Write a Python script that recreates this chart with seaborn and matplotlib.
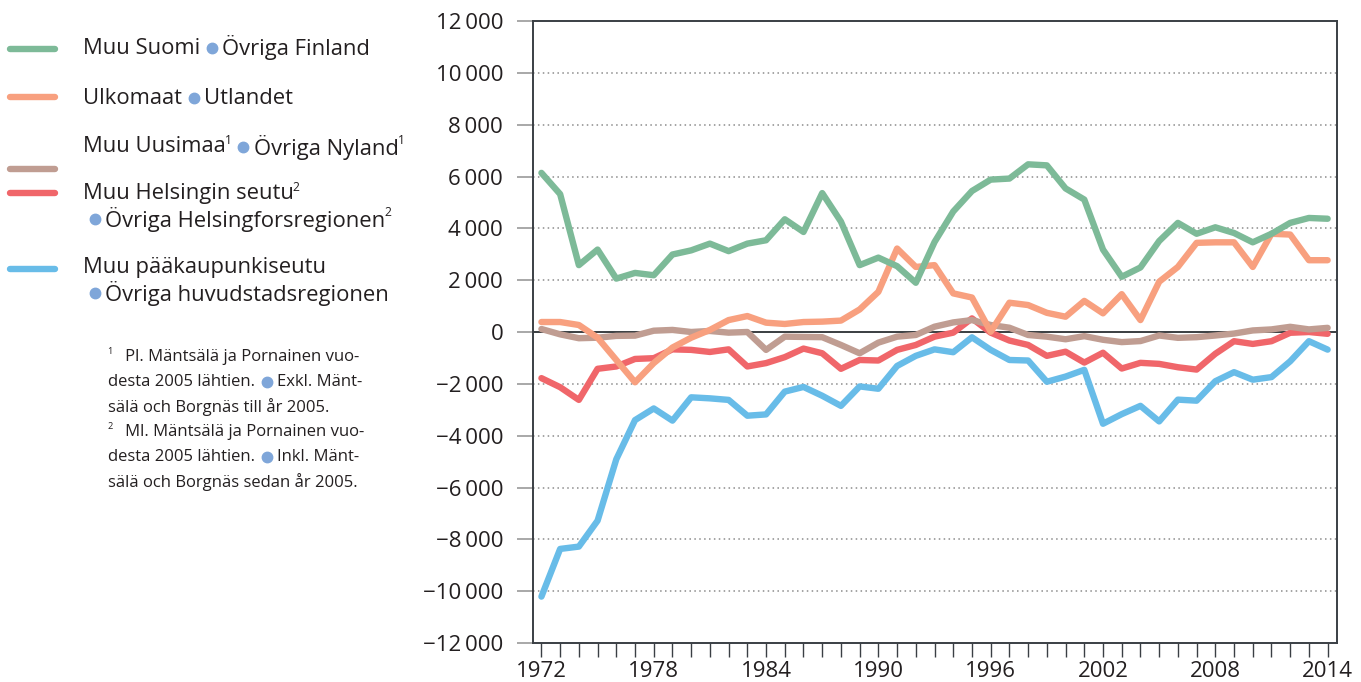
import numpy as np
import pandas as pd
import matplotlib
matplotlib.use("Agg")
import matplotlib.pyplot as plt
import seaborn as sns
from matplotlib.lines import Line2D
from matplotlib.transforms import IdentityTransform

years = list(range(1972, 2015))

muu_suomi = [6140, 5320, 2580, 3180, 2060, 2280, 2190, 2990, 3150, 3410, 3120, 3410, 3540, 4350,
             3860, 5360, 4260, 2580, 2870, 2540, 1900, 3470, 4650, 5440, 5880, 5920, 6470, 6430,
             5540, 5110, 3180, 2130, 2490, 3510, 4210, 3790, 4040, 3820, 3460, 3790, 4210, 4400, 4370]
ulkomaat = [385, 385, 270, -220, -1080, -1940, -1200, -600, -220, 80, 460, 615, 360, 310,
            385, 400, 440, 870, 1550, 3220, 2510, 2580, 1490, 1330, 10, 1130, 1040, 740,
            590, 1200, 720, 1460, 460, 1940, 2510, 3440, 3460, 3460, 2510, 3790, 3760, 2770, 2770]
muu_uusimaa = [115, -90, -240, -220, -150, -140, 50, 80, 0, 40, -25, 0, -690, -180,
               -190, -200, -500, -820, -410, -180, -115, 205, 370, 460, 270, 165, -115, -180,
               -280, -160, -300, -390, -350, -135, -225, -200, -135, -60, 60, 100, 200, 100, 160]
muu_helsingin_seutu = [-1780, -2130, -2620, -1420, -1330, -1040, -1010, -670, -690, -770, -670, -1330, -1200, -970,
                       -640, -820, -1420, -1080, -1100, -690, -500, -180, -25, 525, -25, -330, -500, -920,
                       -760, -1180, -800, -1410, -1190, -1230, -1360, -1450, -840, -355, -460, -355, -30, 0, -70]
muu_paakaupunkiseutu = [-10210, -8370, -8280, -7280, -4910, -3400, -2950, -3420, -2520, -2560, -2620, -3230, -3180, -2300,
                        -2120, -2460, -2850, -2100, -2190, -1310, -920, -670, -780, -205, -690, -1080, -1100, -1920,
                        -1720, -1460, -3540, -3170, -2850, -3450, -2610, -2650, -1900, -1550, -1840, -1740, -1130, -355, -680]

series_names = ["Muu Suomi", "Ulkomaat", "Muu Uusimaa", "Muu Helsingin seutu", "Muu pääkaupunkiseutu"]
series_values = [muu_suomi, ulkomaat, muu_uusimaa, muu_helsingin_seutu, muu_paakaupunkiseutu]
colors = ["#7dba98", "#f8a07f", "#c09d92", "#f0666a", "#68bce8"]

y_ticks = list(range(-12000, 12001, 2000))
x_ticklabels = [1972, 1978, 1984, 1990, 1996, 2002, 2008, 2014]

def fmt(v):
    s = f"{abs(v):,}".replace(",", "\u2009")
    return ("\u2212" if v < 0 else "") + s

df = pd.DataFrame({
    "Vuosi": np.tile(years, len(series_names)),
    "Arvo": np.concatenate(series_values),
    "Sarja": np.repeat(series_names, len(years)),
})

sns.set_theme(style="white")
plt.rcParams["font.family"] = ["Open Sans", "DejaVu Sans"]
TXT = "#231f20"
DOT = "#7fa6d9"

fig = plt.figure(figsize=(13.61, 6.82), dpi=100)
ax = fig.add_axes([533 / 1361, 1 - 643 / 682, (1337 - 533) / 1361, (643 - 21) / 682])

for yt in y_ticks:
    if yt == 0:
        ax.axhline(0, color="#2b2f33", lw=1.3, zorder=1)
    elif abs(yt) < 12000:
        ax.axhline(yt, color="#8c8c8c", lw=1.1, ls=(0, (1, 2.2)), zorder=1)

sns.lineplot(data=df, x="Vuosi", y="Arvo", hue="Sarja", hue_order=series_names[::-1],
             palette=dict(zip(series_names, colors)), lw=4.6, ax=ax, legend=False, zorder=3)

ax.set_xlim(1971.55, 2014.5)
ax.set_ylim(-12000, 12000)
ax.set_xlabel("")
ax.set_ylabel("")
ax.set_yticks(y_ticks)
ax.set_yticklabels([fmt(v) for v in y_ticks])
ax.set_xticks(years, minor=False)
ax.set_xticklabels([str(y) if y in x_ticklabels else "" for y in years])
for sp in ax.spines.values():
    sp.set_color("#3a3f44")
    sp.set_linewidth(1.4)
    sp.set_visible(True)
ax.tick_params(axis="y", length=11.5, width=1.2, color="#9a9a9a", pad=10, labelsize=16, labelcolor=TXT, left=True)
ax.tick_params(axis="x", length=10, width=1.0, color="#3a3f44", pad=3, labelsize=16, labelcolor=TXT, bottom=True)

renderer = fig.canvas.get_renderer()

def run_text(x, y, parts, size):
    """parts: strings; None = bullet dot; ('s', txt) = superscript. x,y in px from top-left."""
    yy = 682 - y
    cx = x
    for p in parts:
        if p is None:
            cx += 7
            fig.add_artist(Line2D([cx + 4.5], [yy + 0.5], marker="o", ms=7.5, color=DOT,
                                  mec=DOT, transform=IdentityTransform()))
            cx += 9 + 6
        elif isinstance(p, tuple):
            t = fig.text(cx - 1.0, yy + size * 0.42, p[1], fontsize=size * 0.55, color=TXT,
                         va="center", ha="left", transform=IdentityTransform())
            cx = t.get_window_extent(renderer).x1
        else:
            t = fig.text(cx, yy, p, fontsize=size, color=TXT, va="center", ha="left",
                         transform=IdentityTransform())
            cx = t.get_window_extent(renderer).x1

leg_lines = [(49, colors[0]), (97, colors[1]), (169, colors[2]), (193, colors[3]), (269, colors[4])]
for yl, c in leg_lines:
    fig.add_artist(Line2D([10, 55], [682 - yl, 682 - yl], color=c, lw=4.6, transform=IdentityTransform()))

LS = 15.8
run_text(83, 48, ["Muu Suomi", None, "Övriga Finland"], LS)
run_text(83, 98, ["Ulkomaat", None, "Utlandet"], LS)
run_text(83, 147, ["Muu Uusimaa", ("s", "1"), None, "Övriga Nyland", ("s", "1")], LS)
run_text(83, 194, ["Muu Helsingin seutu", ("s", "2")], LS)
run_text(83, 219, [None, "Övriga Helsingforsregionen", ("s", "2")], LS)
run_text(83, 268, ["Muu pääkaupunkiseutu"], LS)
run_text(83, 293, [None, "Övriga huvudstadsregionen"], LS)

FS = 12
run_text(108, 357, [("s", "1"), "   Pl. Mäntsälä ja Pornainen vuo-"], FS)
run_text(108, 382, ["desta 2005 lähtien.", None, "Exkl. Mänt-"], FS)
run_text(108, 407, ["sälä och Borgnäs till år 2005."], FS)
run_text(108, 432, [("s", "2"), "   Ml. Mäntsälä ja Pornainen vuo-"], FS)
run_text(108, 457, ["desta 2005 lähtien.", None, "Inkl. Mänt-"], FS)
run_text(108, 482, ["sälä och Borgnäs sedan år 2005."], FS)

fig.savefig("out.png", dpi=100)
